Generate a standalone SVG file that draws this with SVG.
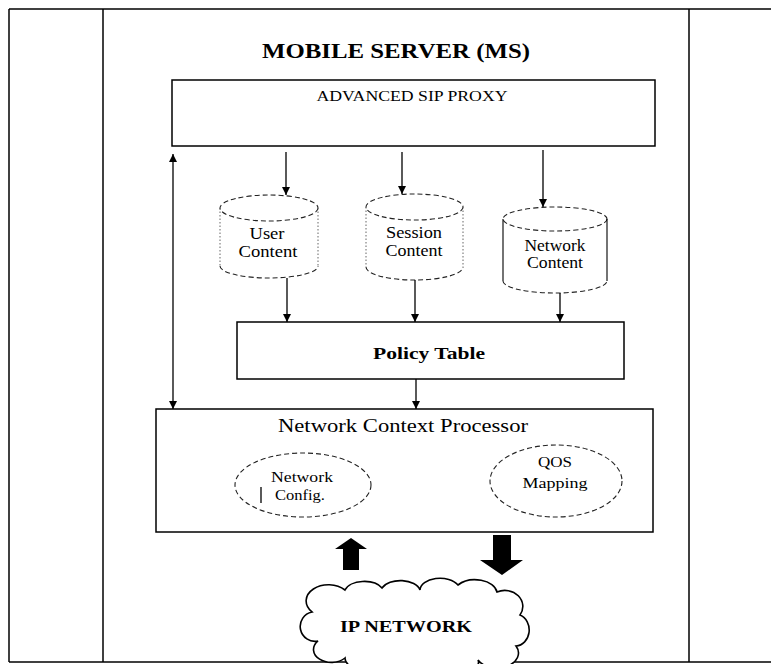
<svg xmlns="http://www.w3.org/2000/svg" width="771" height="664" viewBox="0 0 771 664">
<style>
.frame{fill:none;stroke:#000;stroke-width:1.5}
.box{fill:#fff;stroke:#000;stroke-width:1.5}
.dash{fill:none;stroke:#222;stroke-width:1.1;stroke-dasharray:5 3}
.dot{fill:none;stroke:#666;stroke-width:1;stroke-dasharray:1.5 2}
.side{fill:none;stroke:#000;stroke-width:1.1}
.ln{fill:none;stroke:#000;stroke-width:1.3}
.t{font-family:"Liberation Serif","Times New Roman",serif;fill:#000;text-anchor:middle}
.b{font-weight:bold}
</style>
<defs>
<marker id="ah" viewBox="0 0 10 10" refX="10" refY="5" markerUnits="userSpaceOnUse" markerWidth="9" markerHeight="8" orient="auto-start-reverse">
<path d="M0,0 L10,5 L0,10 z" fill="#000"/>
</marker>
</defs>
<rect width="771" height="664" fill="#fff"/>
<g id="frame">
<line class="frame" x1="9" y1="9" x2="771" y2="9"/>
<line class="frame" x1="9" y1="662" x2="771" y2="662"/>
<line class="frame" x1="9" y1="9" x2="9" y2="662"/>
<line class="frame" x1="103" y1="9" x2="103" y2="662"/>
<line class="frame" x1="689" y1="9" x2="689" y2="662"/>
</g>
<g id="title">
<text class="t b" x="396" y="58" font-size="22" textLength="268" lengthAdjust="spacingAndGlyphs">MOBILE SERVER (MS)</text>
</g>
<g id="sip-proxy">
<rect class="box" x="172" y="80" width="483" height="66"/>
<text class="t" x="412" y="101" font-size="15" textLength="191" lengthAdjust="spacingAndGlyphs">ADVANCED SIP PROXY</text>
</g>
<g id="user-content">
<ellipse class="dash" cx="269" cy="208" rx="49" ry="13"/>
<line class="dot" x1="220" y1="208" x2="220" y2="266"/>
<line class="dot" x1="318" y1="208" x2="318" y2="266"/>
<path class="dash" d="M220 266 A49 12 0 0 0 318 266"/>
<text class="t" x="267" y="239" font-size="16" textLength="35" lengthAdjust="spacingAndGlyphs">User</text>
<text class="t" x="268" y="257" font-size="16" textLength="59" lengthAdjust="spacingAndGlyphs">Content</text>
</g>
<g id="session-content">
<ellipse class="dash" cx="414.5" cy="207" rx="48.5" ry="13"/>
<line class="dot" x1="366" y1="207" x2="366" y2="267"/>
<line class="dot" x1="463" y1="207" x2="463" y2="267"/>
<path class="dash" d="M366 267 A48.5 13 0 0 0 463 267"/>
<text class="t" x="414" y="238" font-size="16" textLength="56" lengthAdjust="spacingAndGlyphs">Session</text>
<text class="t" x="414" y="256" font-size="16" textLength="57" lengthAdjust="spacingAndGlyphs">Content</text>
</g>
<g id="network-content">
<ellipse class="dash" cx="555" cy="219" rx="52" ry="12"/>
<line class="side" x1="503" y1="219" x2="503" y2="281"/>
<line class="side" x1="607" y1="219" x2="607" y2="281"/>
<path class="dash" d="M503 281 A52 12 0 0 0 607 281"/>
<text class="t" x="555" y="251" font-size="16" textLength="61" lengthAdjust="spacingAndGlyphs">Network</text>
<text class="t" x="555" y="268" font-size="16" textLength="56" lengthAdjust="spacingAndGlyphs">Content</text>
</g>
<g id="policy-table">
<rect class="box" x="237" y="322" width="387" height="57"/>
<text class="t b" x="429" y="359" font-size="17" textLength="112" lengthAdjust="spacingAndGlyphs">Policy Table</text>
</g>
<g id="network-context-processor">
<rect class="box" x="156" y="409" width="497" height="123"/>
<text class="t" x="403" y="432" font-size="18" textLength="250" lengthAdjust="spacingAndGlyphs">Network Context Processor</text>
</g>
<g id="network-config">
<ellipse class="dash" cx="303" cy="485" rx="68" ry="32"/>
<text class="t" x="302" y="482" font-size="15" textLength="62" lengthAdjust="spacingAndGlyphs">Network</text>
<text class="t" x="300" y="500" font-size="15" textLength="50" lengthAdjust="spacingAndGlyphs">Config.</text>
<line class="ln" x1="261" y1="487" x2="261" y2="503"/>
</g>
<g id="qos-mapping">
<ellipse class="dash" cx="556" cy="481" rx="66" ry="36"/>
<text class="t" x="555" y="467" font-size="15" textLength="34" lengthAdjust="spacingAndGlyphs">QOS</text>
<text class="t" x="555" y="488" font-size="15" textLength="65" lengthAdjust="spacingAndGlyphs">Mapping</text>
</g>
<g id="ip-network">
<path d="M318 641 A14 14 0 0 1 312 612 A22 16 0 0 1 345 590 A20 12 0 0 1 382 588 A20 12 0 0 1 420 590 A20 12 0 0 1 458 585 A22 14 0 0 1 497 592 A18 16 0 0 1 520 615 A14 16 0 0 1 516 646 A20 14 0 0 1 478 660 A40 14 0 0 1 400 666 A30 14 0 0 1 345 658 A14 10 0 0 1 318 641 Z" fill="#fff" stroke="#000" stroke-width="1.6"/>
<text class="t b" x="406" y="632" font-size="17" textLength="132" lengthAdjust="spacingAndGlyphs">IP NETWORK</text>
</g>
<g id="connectors">
<line class="ln" x1="286" y1="152" x2="286" y2="195" marker-end="url(#ah)"/>
<line class="ln" x1="402" y1="152" x2="402" y2="194" marker-end="url(#ah)"/>
<line class="ln" x1="543" y1="150" x2="543" y2="207" marker-end="url(#ah)"/>
<line class="ln" x1="287" y1="278" x2="287" y2="322" marker-end="url(#ah)"/>
<line class="ln" x1="415" y1="280" x2="415" y2="322" marker-end="url(#ah)"/>
<line class="ln" x1="560" y1="293" x2="560" y2="322" marker-end="url(#ah)"/>
<line class="ln" x1="416" y1="379" x2="416" y2="409" marker-end="url(#ah)"/>
<line class="ln" x1="173" y1="154" x2="173" y2="409" marker-start="url(#ah)" marker-end="url(#ah)"/>
<polygon points="351,538 367,549 359,549 359,570 343,570 343,549 335,549" fill="#000"/>
<polygon points="493,535 511,535 511,560 523,560 502,575 480,560 493,560" fill="#000"/>
</g>
</svg>
